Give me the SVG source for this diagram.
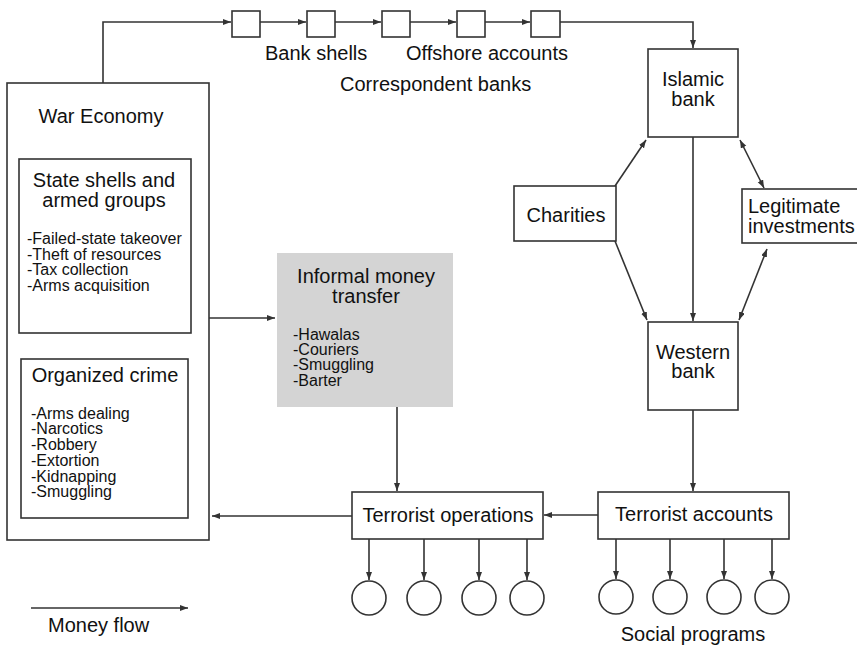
<svg xmlns="http://www.w3.org/2000/svg" width="857" height="649" viewBox="0 0 857 649">
<style>
.box{fill:#fff;stroke:#333;stroke-width:1.6}
.gray{fill:#d4d4d4;stroke:none}
.ln{fill:none;stroke:#333;stroke-width:1.6}
.t{font-family:"Liberation Sans",Arial,sans-serif;font-size:20px;fill:#111}
.s{font-family:"Liberation Sans",Arial,sans-serif;font-size:16px;fill:#111}
.c{text-anchor:middle}
</style>
<defs>
<marker id="ah" markerUnits="userSpaceOnUse" markerWidth="9" markerHeight="7" refX="8" refY="3" orient="auto-start-reverse">
<path d="M0,0 L8,3 L0,6 z" fill="#333"/>
</marker>
</defs>
<rect width="857" height="649" fill="#fff"/>

<g id="war-economy">
<rect class="box" x="7" y="83" width="202" height="457"/>
<text class="t c" x="101" y="123">War Economy</text>
</g>
<g id="state-shells">
<rect class="box" x="19" y="159" width="172" height="174"/>
<text class="t c" x="104" y="187">State shells and</text>
<text class="t c" x="104" y="207">armed groups</text>
<text class="s" x="27" y="244">-Failed-state takeover</text>
<text class="s" x="27" y="260">-Theft of resources</text>
<text class="s" x="27" y="275">-Tax collection</text>
<text class="s" x="27" y="291">-Arms acquisition</text>
</g>
<g id="organized-crime">
<rect class="box" x="21" y="359" width="167" height="159"/>
<text class="t c" x="105" y="382">Organized crime</text>
<text class="s" x="31" y="419">-Arms dealing</text>
<text class="s" x="31" y="434">-Narcotics</text>
<text class="s" x="31" y="450">-Robbery</text>
<text class="s" x="31" y="466">-Extortion</text>
<text class="s" x="31" y="482">-Kidnapping</text>
<text class="s" x="31" y="497">-Smuggling</text>
</g>
<g id="informal-transfer">
<rect class="gray" x="277" y="253" width="176" height="154"/>
<text class="t c" x="366" y="283">Informal money</text>
<text class="t c" x="366" y="303">transfer</text>
<text class="s" x="293" y="340">-Hawalas</text>
<text class="s" x="293" y="355">-Couriers</text>
<text class="s" x="293" y="370">-Smuggling</text>
<text class="s" x="293" y="386">-Barter</text>
</g>
<g id="bank-chain">
<rect class="box" x="232" y="11" width="28" height="26"/>
<rect class="box" x="307" y="11" width="28" height="26"/>
<rect class="box" x="382" y="11" width="28" height="26"/>
<rect class="box" x="457" y="11" width="28" height="26"/>
<rect class="box" x="531" y="11" width="29" height="26"/>
<text class="t" x="265" y="60">Bank shells</text>
<text class="t" x="406" y="60">Offshore accounts</text>
<text class="t" x="340" y="91">Correspondent banks</text>
</g>
<g id="islamic-bank">
<rect class="box" x="648" y="49" width="90" height="88"/>
<text class="t c" x="693" y="86">Islamic</text>
<text class="t c" x="693" y="106">bank</text>
</g>
<g id="charities">
<rect class="box" x="514" y="186" width="102" height="55"/>
<text class="t c" x="566" y="222">Charities</text>
</g>
<g id="legitimate-investments">
<rect class="box" x="742" y="189" width="130" height="54"/>
<text class="t" x="748" y="213">Legitimate</text>
<text class="t" x="748" y="233">investments</text>
</g>
<g id="western-bank">
<rect class="box" x="648" y="322" width="90" height="88"/>
<text class="t c" x="693" y="359">Western</text>
<text class="t c" x="693" y="378">bank</text>
</g>
<g id="terrorist-operations">
<rect class="box" x="352" y="492" width="191" height="47"/>
<text class="t c" x="448" y="522">Terrorist operations</text>
</g>
<g id="terrorist-accounts">
<rect class="box" x="598" y="492" width="191" height="47"/>
<text class="t c" x="694" y="521">Terrorist accounts</text>
</g>
<g id="operation-targets">
<circle class="box" cx="369" cy="598" r="17"/>
<circle class="box" cx="424" cy="598" r="17"/>
<circle class="box" cx="479" cy="598" r="17"/>
<circle class="box" cx="527" cy="598" r="17"/>
</g>
<g id="social-programs">
<circle class="box" cx="616" cy="597" r="17"/>
<circle class="box" cx="670" cy="597" r="17"/>
<circle class="box" cx="724" cy="597" r="17"/>
<circle class="box" cx="772" cy="597" r="17"/>
<text class="t c" x="693" y="641">Social programs</text>
</g>
<g id="legend">
<text class="t" x="48" y="632">Money flow</text>
</g>

<g id="connectors" class="ln" marker-end="url(#ah)">
<path class="ln" d="M103,83 V22 H231" marker-end="url(#ah)"/>
<path class="ln" d="M260,22 H306" marker-end="url(#ah)"/>
<path class="ln" d="M335,22 H381" marker-end="url(#ah)"/>
<path class="ln" d="M410,22 H456" marker-end="url(#ah)"/>
<path class="ln" d="M485,22 H530" marker-end="url(#ah)"/>
<path class="ln" d="M560,22 H693 V48" marker-end="url(#ah)"/>
<path class="ln" d="M615,186 L646,140" marker-end="url(#ah)"/>
<path class="ln" d="M615,241 L647,320" marker-end="url(#ah)"/>
<path class="ln" d="M693,137 V321" marker-end="url(#ah)"/>
<path class="ln" d="M740,140 L764,188" marker-start="url(#ah)" marker-end="url(#ah)"/>
<path class="ln" d="M767,249 L739,320" marker-start="url(#ah)" marker-end="url(#ah)"/>
<path class="ln" d="M693,410 V491" marker-end="url(#ah)"/>
<path class="ln" d="M598,515 H544" marker-end="url(#ah)"/>
<path class="ln" d="M352,516 H212" marker-end="url(#ah)"/>
<path class="ln" d="M209,318 H275" marker-end="url(#ah)"/>
<path class="ln" d="M397,407 V491" marker-end="url(#ah)"/>
<path class="ln" d="M369,539 V580" marker-end="url(#ah)"/>
<path class="ln" d="M424,539 V580" marker-end="url(#ah)"/>
<path class="ln" d="M479,539 V580" marker-end="url(#ah)"/>
<path class="ln" d="M527,539 V580" marker-end="url(#ah)"/>
<path class="ln" d="M616,539 V579" marker-end="url(#ah)"/>
<path class="ln" d="M670,539 V579" marker-end="url(#ah)"/>
<path class="ln" d="M724,539 V579" marker-end="url(#ah)"/>
<path class="ln" d="M772,539 V579" marker-end="url(#ah)"/>
<path class="ln" d="M31,608 H188" marker-end="url(#ah)"/>
</g>
</svg>
